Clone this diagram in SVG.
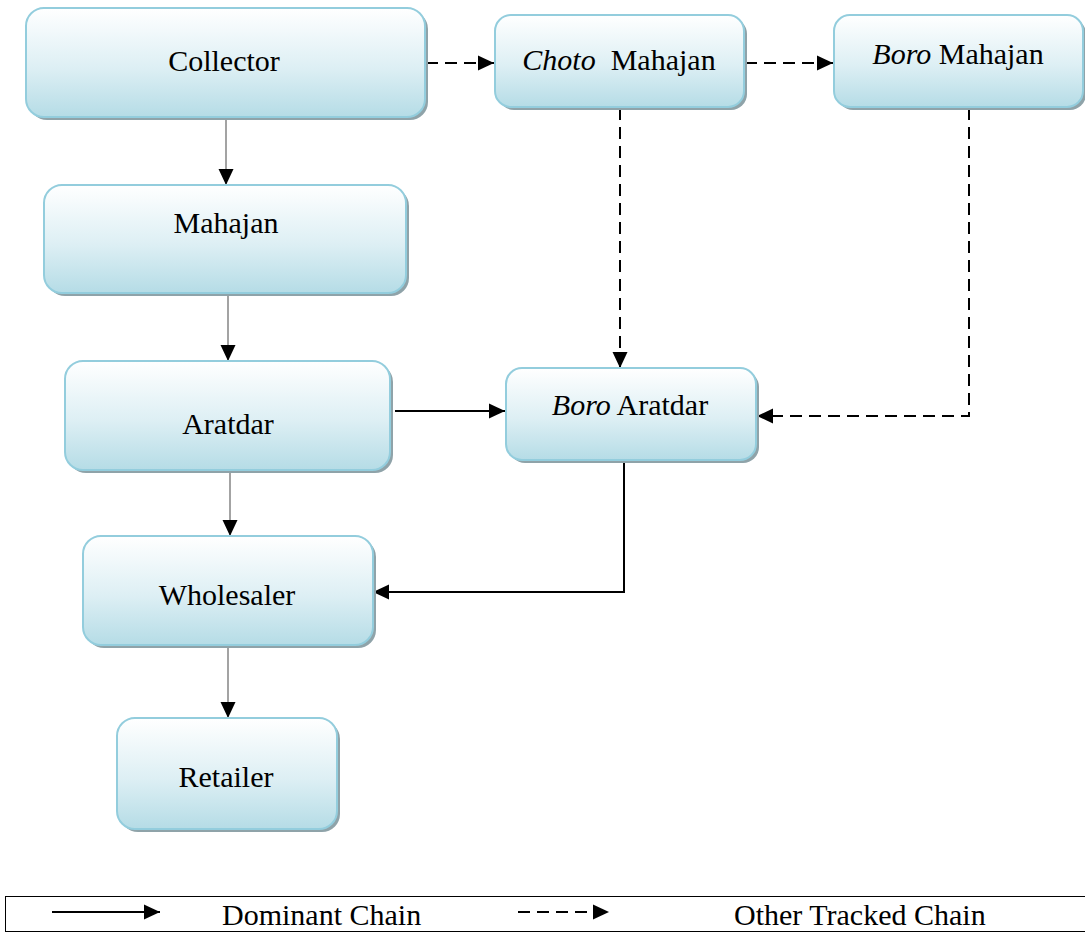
<svg xmlns="http://www.w3.org/2000/svg" width="1085" height="941" viewBox="0 0 1085 941">
  <style>
    .box { fill: url(#boxFill); stroke: #93cddd; stroke-width: 2; }
    .shadow { fill: #8fa3a9; }
    .label { font-family: "Liberation Serif", "Times New Roman", serif; font-size: 30px; fill: #000; text-anchor: middle; }
    .legend { font-family: "Liberation Serif", "Times New Roman", serif; font-size: 30px; fill: #000; }
    .thin { stroke: #8c8c8c; stroke-width: 1.6; fill: none; marker-end: url(#arrow); }
    .solid { stroke: #000; stroke-width: 2; fill: none; marker-end: url(#arrow); }
    .dashed { stroke: #000; stroke-width: 2; fill: none; stroke-dasharray: 12 7; marker-end: url(#arrow); }
  </style>
  <defs>
    <linearGradient id="boxFill" x1="0" y1="0" x2="0" y2="1">
      <stop offset="0" stop-color="#ffffff"/>
      <stop offset="0.55" stop-color="#ddeff4"/>
      <stop offset="1" stop-color="#b5dce6"/>
    </linearGradient>
    <marker id="arrow" markerUnits="userSpaceOnUse" markerWidth="18" markerHeight="18" viewBox="0 0 18 18" refX="17" refY="9" orient="auto">
      <path d="M1,1.5 L17,9 L1,16.5 Z" fill="#000"/>
    </marker>
  </defs>

  <rect width="1085" height="941" fill="#fff"/>

  <!-- connectors -->
  <g id="connectors">
    <line class="dashed" x1="426" y1="63" x2="494" y2="63"/>
    <line class="dashed" x1="745" y1="63" x2="833" y2="63"/>
    <line class="thin" x1="226" y1="118" x2="226" y2="185"/>
    <line class="thin" x1="228" y1="295" x2="228" y2="361"/>
    <line class="thin" x1="230" y1="472" x2="230" y2="536"/>
    <line class="thin" x1="228" y1="648" x2="228" y2="718"/>
    <line class="solid" x1="395" y1="411" x2="505" y2="411"/>
    <line class="dashed" x1="620" y1="108" x2="620" y2="368"/>
    <polyline class="dashed" points="969,108 969,416 757,416"/>
    <polyline class="solid" points="624,456 624,592 373,592"/>
  </g>

  <g id="collector">
    <rect class="shadow" x="29" y="11" width="399" height="109" rx="18"/>
    <rect class="box" x="26" y="8" width="399" height="109" rx="18"/>
    <text class="label" x="224" y="71">Collector</text>
  </g>

  <g id="choto-mahajan">
    <rect class="shadow" x="498" y="18" width="249" height="92" rx="16"/>
    <rect class="box" x="495" y="15" width="249" height="92" rx="16"/>
    <text class="label" x="619" y="70" xml:space="preserve"><tspan font-style="italic">Choto</tspan>  Mahajan</text>
  </g>

  <g id="boro-mahajan">
    <rect class="shadow" x="837" y="18" width="249" height="92" rx="16"/>
    <rect class="box" x="834" y="15" width="249" height="92" rx="16"/>
    <text class="label" x="958" y="64"><tspan font-style="italic">Boro</tspan> Mahajan</text>
  </g>

  <g id="mahajan">
    <rect class="shadow" x="47" y="188" width="362" height="108" rx="18"/>
    <rect class="box" x="44" y="185" width="362" height="108" rx="18"/>
    <text class="label" x="226" y="233">Mahajan</text>
  </g>

  <g id="aratdar">
    <rect class="shadow" x="68" y="364" width="325" height="109" rx="18"/>
    <rect class="box" x="65" y="361" width="325" height="109" rx="18"/>
    <text class="label" x="228" y="434">Aratdar</text>
  </g>

  <g id="boro-aratdar">
    <rect class="shadow" x="509" y="371" width="250" height="92" rx="16"/>
    <rect class="box" x="506" y="368" width="250" height="92" rx="16"/>
    <text class="label" x="630" y="415"><tspan font-style="italic">Boro</tspan> Aratdar</text>
  </g>

  <g id="wholesaler">
    <rect class="shadow" x="86" y="539" width="290" height="109" rx="18"/>
    <rect class="box" x="83" y="536" width="290" height="109" rx="18"/>
    <text class="label" x="227" y="605">Wholesaler</text>
  </g>

  <g id="retailer">
    <rect class="shadow" x="120" y="721" width="220" height="111" rx="18"/>
    <rect class="box" x="117" y="718" width="220" height="111" rx="18"/>
    <text class="label" x="226" y="787">Retailer</text>
  </g>

  <!-- key -->
  <g id="legend">
    <rect x="5.5" y="896.5" width="1090" height="35" fill="#fff" stroke="#000" stroke-width="1"/>
    <line class="solid" x1="52" y1="912" x2="160" y2="912"/>
    <text class="legend" x="222" y="925">Dominant Chain</text>
    <line class="dashed" x1="518" y1="912" x2="609" y2="912" stroke-dasharray="11 6"/>
    <text class="legend" x="734" y="925">Other Tracked Chain</text>
  </g>
</svg>
